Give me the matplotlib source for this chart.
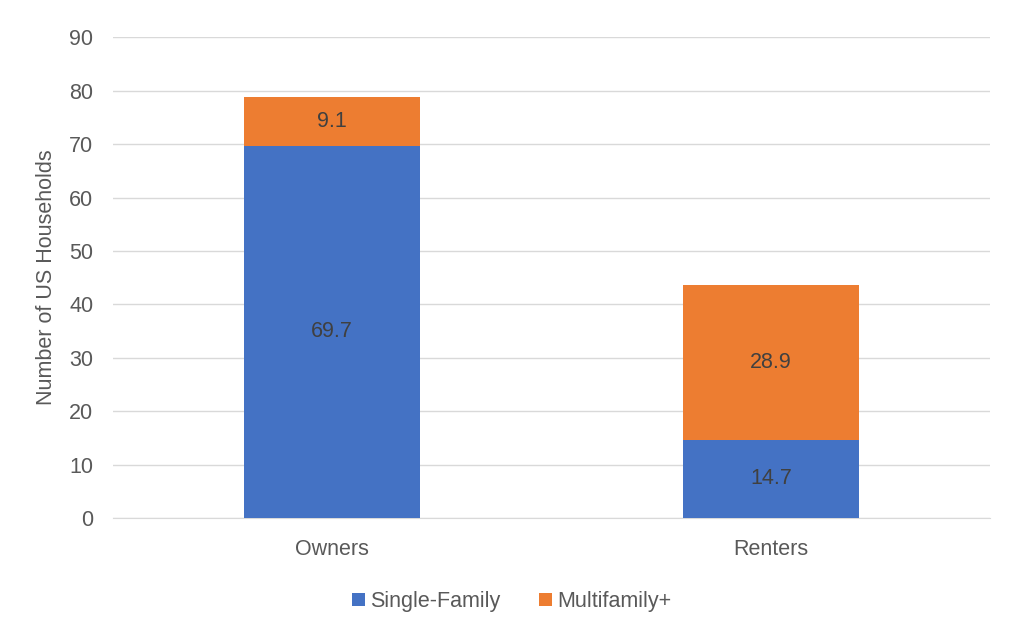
import matplotlib
matplotlib.use("Agg")
import matplotlib.pyplot as plt
import numpy as np

plt.rcParams["font.family"] = ["Liberation Sans", "DejaVu Sans"]

categories = ["Owners", "Renters"]
single_family = [69.7, 14.7]
multifamily = [9.1, 28.9]
series_names = ["Single-Family", "Multifamily+"]

text_color = "#595959"
blue = "#4472C4"
orange = "#ED7D31"
fs = 15.5

fig = plt.figure(figsize=(10.24, 6.42), dpi=100)
ax = fig.add_axes([0.110, 0.193, 0.857, 0.749])

x = np.arange(len(categories))
width = 0.4
bars1 = ax.bar(x, single_family, width, color=blue, label=series_names[0], zorder=3)
bars2 = ax.bar(x, multifamily, width, bottom=single_family, color=orange,
               label=series_names[1], zorder=3)

for bars, vals in [(bars1, single_family), (bars2, multifamily)]:
    for bar, val in zip(bars, vals):
        ax.text(bar.get_x() + bar.get_width() / 2, bar.get_y() + bar.get_height() / 2,
                f"{val:.1f}", ha="center", va="center", fontsize=fs,
                color="#404040", zorder=4)

ax.set_xlim(-0.5, 1.5)
ax.set_ylim(0, 90)
ax.set_yticks(np.arange(0, 91, 10))
ax.set_xticks(x)
ax.set_xticklabels(categories)
ax.tick_params(axis="both", length=0, labelsize=fs, labelcolor=text_color)
ax.tick_params(axis="y", pad=14)
ax.tick_params(axis="x", pad=15)
ax.grid(axis="y", color="#D9D9D9", linewidth=1, zorder=0)
for s in ["top", "right", "left"]:
    ax.spines[s].set_visible(False)
ax.spines["bottom"].set_color("#D9D9D9")

ax.set_ylabel("Number of US Households", fontsize=fs, color=text_color, labelpad=9)

fig.legend(handles=[bars1, bars2], labels=series_names, loc="center",
           bbox_to_anchor=(0.5, 0.063), ncol=2, frameon=False, fontsize=fs,
           labelcolor=text_color, handlelength=0.6, handleheight=0.6,
           handletextpad=0.25, columnspacing=1.8)

fig.savefig("out.png", dpi=100)
